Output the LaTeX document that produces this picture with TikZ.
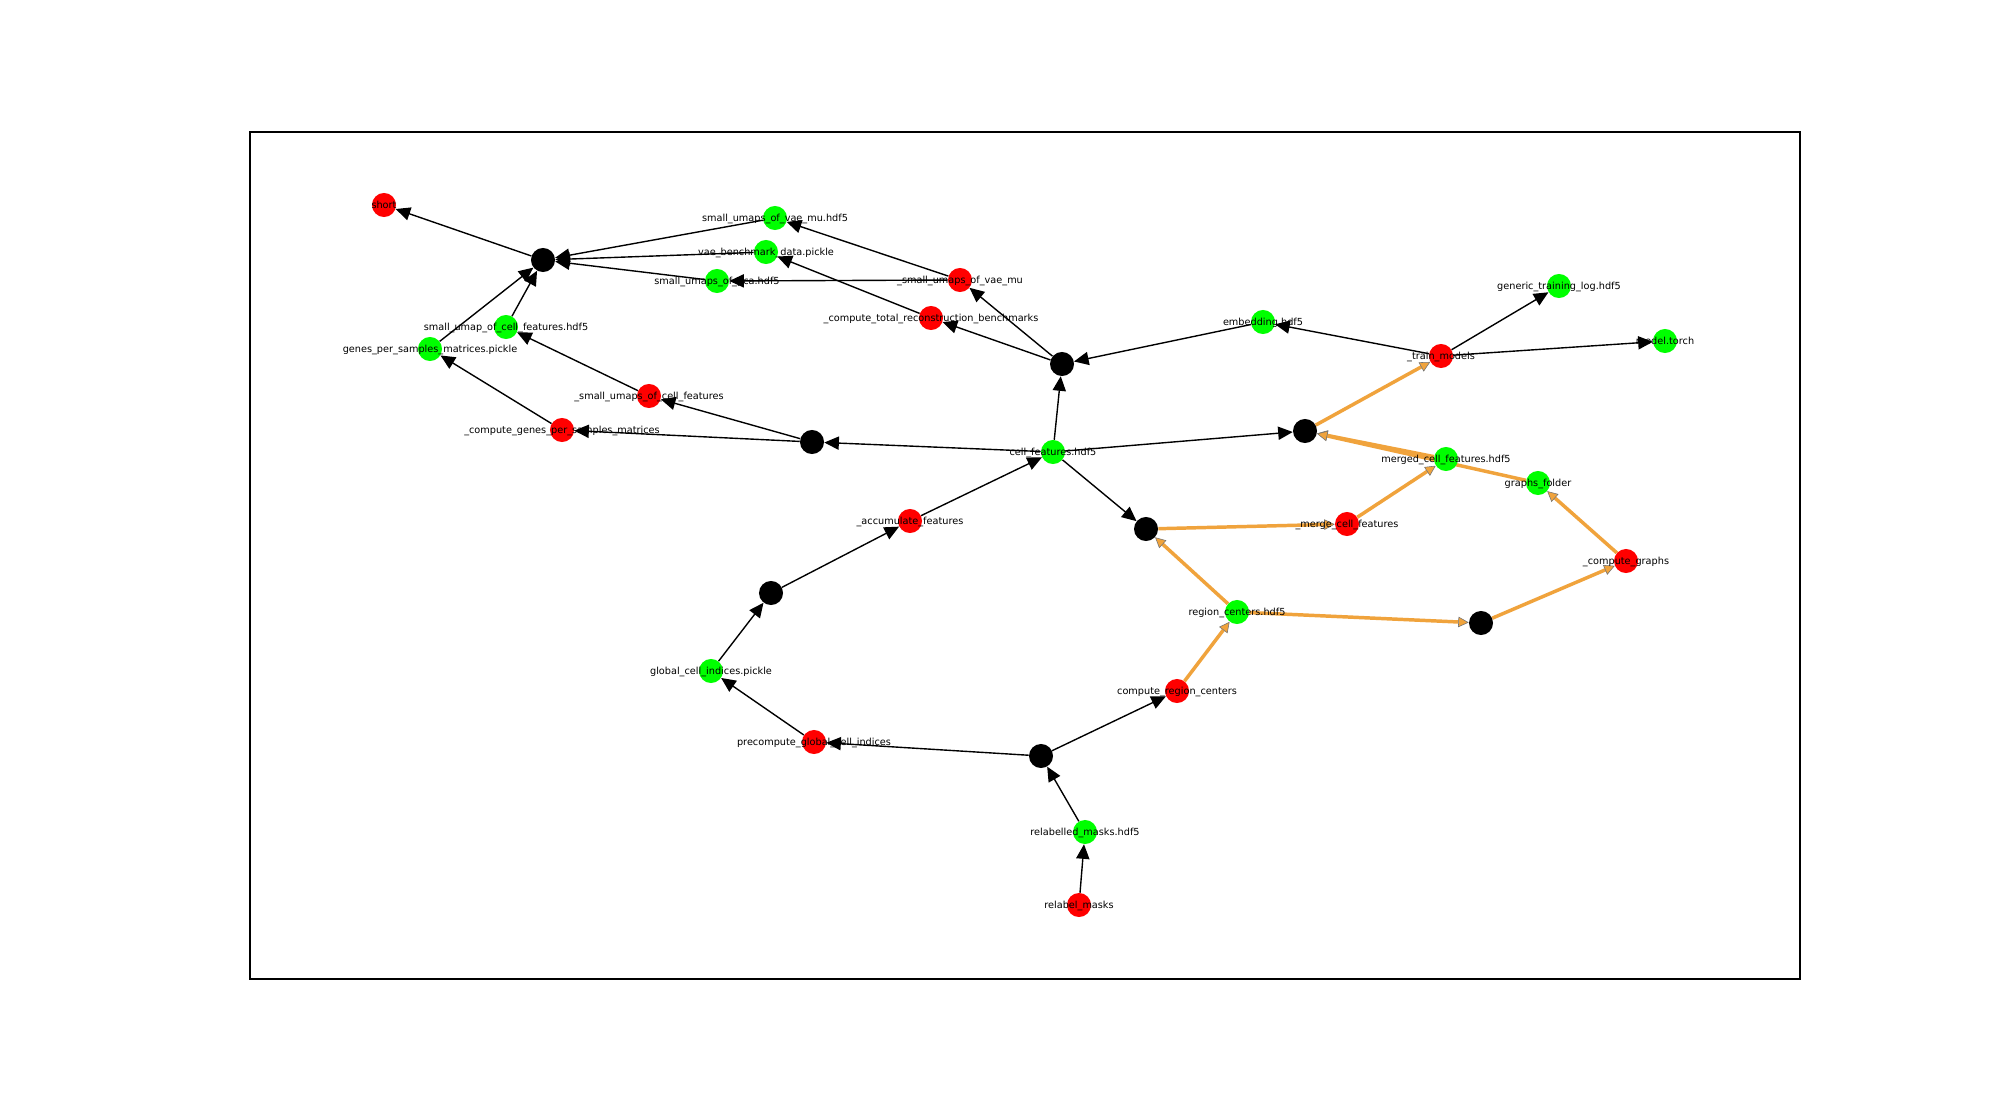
\documentclass[tikz,border=0pt]{standalone}
\usepackage{fontspec}
\setmainfont{DejaVu Sans}
\usetikzlibrary{arrows.meta}
\definecolor{gnode}{RGB}{0,255,0}
\definecolor{rnode}{RGB}{255,0,0}
\definecolor{orangeC}{RGB}{240,163,60}
\pgfdeclarelayer{bg}
\pgfsetlayers{bg,main}
\begin{document}
\begin{tikzpicture}[x=0.72pt,y=-0.72pt,
  dot/.style={circle,inner sep=0pt,minimum size=17.3pt},
  gdot/.style={dot,fill=gnode},
  rdot/.style={dot,fill=rnode},
  bdot/.style={dot,fill=black},
  lbl/.style={font=\fontsize{7}{8}\selectfont,inner sep=0pt,text height=6pt,text depth=1.3pt},
  blk/.style={line width=1pt,-{Triangle[length=10.5pt,width=9.5pt]}},
  org/.style={line width=2.5pt,draw=orangeC,-{Triangle[length=7.5pt,width=7.5pt,color=black!55,fill=orangeC,line width=0.4pt]}}
]
\useasboundingbox (0,0) rectangle (2000,1100);

% nodes
\node[rdot] (short) at (384,205) {};
\node[bdot] (hub1) at (543,260) {};
\node[gdot] (vaemuH) at (775,218) {};
\node[gdot] (vaebench) at (766,252) {};
\node[gdot] (pcaH) at (717,281) {};
\node[gdot] (umapcf) at (506,327) {};
\node[gdot] (genesP) at (430,349) {};
\node[rdot] (smallcf) at (649,396) {};
\node[rdot] (compgenes) at (562,430) {};
\node[bdot] (hub2) at (812,442) {};
\node[rdot] (smallvae) at (960,280) {};
\node[rdot] (comptotal) at (931,318) {};
\node[bdot] (hub3) at (1062,364) {};
\node[gdot] (embed) at (1263,322) {};
\node[gdot] (cellf) at (1053,452) {};
\node[gdot] (genlog) at (1559,286) {};
\node[rdot] (train) at (1441,356) {};
\node[gdot] (model) at (1665,341) {};
\node[bdot] (hub4) at (1305,431) {};
\node[gdot] (merged) at (1446,459) {};
\node[gdot] (graphs) at (1538,483) {};
\node[rdot] (mergecf) at (1347,524) {};
\node[rdot] (compgraphs) at (1626,561) {};
\node[rdot] (accum) at (910,521) {};
\node[bdot] (hub5) at (1146,529) {};
\node[gdot] (region) at (1237,612) {};
\node[rdot] (compregion) at (1177,691) {};
\node[bdot] (hub8) at (1481,623) {};
\node[bdot] (hub6) at (771,593) {};
\node[gdot] (global) at (711,671) {};
\node[rdot] (precomp) at (814,742) {};
\node[bdot] (hub7) at (1041,756) {};
\node[gdot] (relabelled) at (1085,832) {};
\node[rdot] (relabel) at (1079,905) {};

% labels
\node[lbl] (t-short) at (short) {short};
\node[lbl] (t-vaemuH) at (vaemuH) {small\_umaps\_of\_vae\_mu.hdf5};
\node[lbl] (t-vaebench) at (vaebench) {vae\_benchmark\_data.pickle};
\node[lbl] (t-pcaH) at (pcaH) {small\_umaps\_of\_pca.hdf5};
\node[lbl] (t-umapcf) at (umapcf) {small\_umap\_of\_cell\_features.hdf5};
\node[lbl] (t-genesP) at (genesP) {genes\_per\_samples\_matrices.pickle};
\node[lbl] (t-smallcf) at (smallcf) {\_small\_umaps\_of\_cell\_features};
\node[lbl] (t-compgenes) at (compgenes) {\_compute\_genes\_per\_samples\_matrices};
\node[lbl] (t-smallvae) at (smallvae) {\_small\_umaps\_of\_vae\_mu};
\node[lbl] (t-comptotal) at (comptotal) {\_compute\_total\_reconstruction\_benchmarks};
\node[lbl] (t-embed) at (embed) {embedding.hdf5};
\node[lbl] (t-cellf) at (cellf) {cell\_features.hdf5};
\node[lbl] (t-genlog) at (genlog) {generic\_training\_log.hdf5};
\node[lbl] (t-train) at (train) {\_train\_models};
\node[lbl] (t-model) at (model) {model.torch};
\node[lbl] (t-merged) at (merged) {merged\_cell\_features.hdf5};
\node[lbl] (t-graphs) at (graphs) {graphs\_folder};
\node[lbl] (t-mergecf) at (mergecf) {\_merge\_cell\_features};
\node[lbl] (t-compgraphs) at (compgraphs) {\_compute\_graphs};
\node[lbl] (t-accum) at (accum) {\_accumulate\_features};
\node[lbl] (t-region) at (region) {region\_centers.hdf5};
\node[lbl] (t-compregion) at (compregion) {compute\_region\_centers};
\node[lbl] (t-global) at (global) {global\_cell\_indices.pickle};
\node[lbl] (t-precomp) at (precomp) {precompute\_global\_cell\_indices};
\node[lbl] (t-relabelled) at (relabelled) {relabelled\_masks.hdf5};
\node[lbl] (t-relabel) at (relabel) {relabel\_masks};

\begin{pgfonlayer}{bg}
\fill[white] (0,0) rectangle (2000,1100);
\draw[line width=0.8pt] (250,132) rectangle (1800,979);
% black edges
\draw[blk] (hub1) -- (short);
\draw[blk] (vaemuH) -- (hub1);
\draw[blk] (vaebench) -- (hub1);
\draw[blk] (pcaH) -- (hub1);
\draw[blk] (umapcf) -- (hub1);
\draw[blk] (genesP) -- (hub1);
\draw[blk] (smallcf) -- (umapcf);
\draw[blk] (compgenes) -- (genesP);
\draw[blk] (hub2) -- (smallcf);
\draw[blk] (hub2) -- (compgenes);
\draw[blk] (cellf) -- (hub2);
\draw[blk] (smallvae) -- (vaemuH);
\draw[blk] (smallvae) -- (pcaH);
\draw[blk] (comptotal) -- (vaebench);
\draw[blk] (hub3) -- (smallvae);
\draw[blk] (hub3) -- (comptotal);
\draw[blk] (embed) -- (hub3);
\draw[blk] (cellf) -- (hub3);
\draw[blk] (train) -- (embed);
\draw[blk] (train) -- (genlog);
\draw[blk] (train) -- (model);
\draw[blk] (cellf) -- (hub4);
\draw[blk] (cellf) -- (hub5);
\draw[blk] (accum) -- (cellf);
\draw[blk] (hub6) -- (accum);
\draw[blk] (global) -- (hub6);
\draw[blk] (precomp) -- (global);
\draw[blk] (hub7) -- (precomp);
\draw[blk] (hub7) -- (compregion);
\draw[blk] (relabelled) -- (hub7);
\draw[blk] (relabel) -- (relabelled);
% orange edges
\draw[org] (hub4) -- (train);
\draw[org] (merged) -- (hub4);
\draw[org] (graphs) -- (hub4);
\draw[org] (mergecf) -- (merged);
\draw[org] (hub5) -- (mergecf);
\draw[org] (region) -- (hub5);
\draw[org] (region) -- (hub8);
\draw[org] (hub8) -- (compgraphs);
\draw[org] (compgraphs) -- (graphs);
\draw[org] (compregion) -- (region);
\end{pgfonlayer}
\end{tikzpicture}
\end{document}
